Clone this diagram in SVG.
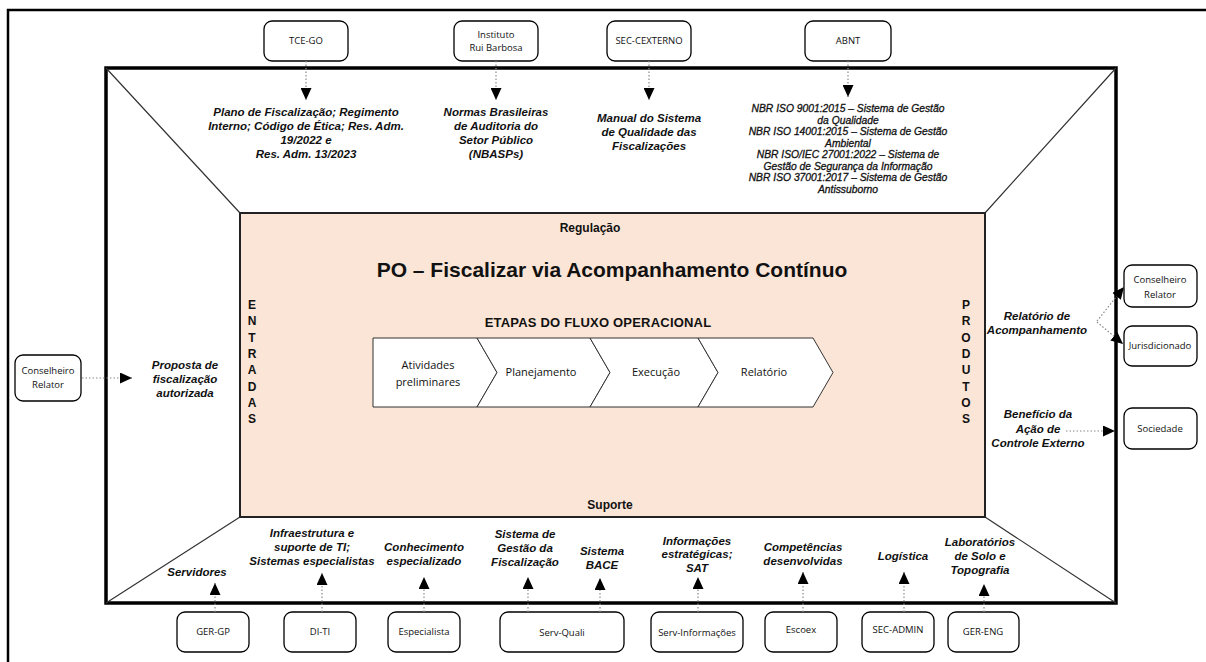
<svg xmlns="http://www.w3.org/2000/svg" width="1206" height="662" viewBox="0 0 1206 662">
<defs>
<marker id="ah" markerUnits="userSpaceOnUse" markerWidth="12" markerHeight="11" refX="12" refY="5.5" orient="auto">
<path d="M0,0 L12,5.5 L0,11 Z" fill="#000"/>
</marker>
<style>
.frame{fill:none;stroke:#000;stroke-width:3.5}
.outer{fill:none;stroke:#000;stroke-width:2.5}
.diag{fill:none;stroke:#333;stroke-width:1.2}
.box{fill:#fff;stroke:#000;stroke-width:1.3}
.chev{fill:#fff;stroke:#333;stroke-width:1}
.conn{fill:none;stroke:#8a8a8a;stroke-width:1.2;stroke-dasharray:1.5 2;marker-end:url(#ah)}
.lbl{font-family:"Liberation Sans",Arial,sans-serif;font-weight:bold;font-style:italic;font-size:11.5px;text-anchor:middle;fill:#111}
.norm{font-family:"Liberation Sans",Arial,sans-serif;font-style:italic;font-size:10.3px;text-anchor:middle;fill:#111;stroke:#111;stroke-width:0.3}
.bx{font-family:"Open Sans","Noto Sans",sans-serif;font-size:9.5px;text-anchor:middle;fill:#111}
.ch{font-family:"Open Sans","Noto Sans",sans-serif;font-size:11px;text-anchor:middle;fill:#111}
.hd{font-family:"Liberation Sans",Arial,sans-serif;font-weight:bold;text-anchor:middle;fill:#111}
</style>
</defs>
<rect width="1206" height="662" fill="#fff"/>
<path class="outer" d="M8,662 L8,10 L1206,10"/>
<g id="frame">
<rect class="frame" x="106" y="68" width="1010" height="535" fill="#fff"/>
<path class="diag" d="M106,68 L240,213 M1116,68 L985,213 M106,603 L240,517 M1116,603 L985,517"/>
</g>
<g id="process">
<rect x="240" y="213" width="745" height="304" fill="#fbe5d6" stroke="#222" stroke-width="2"/>
<text class="hd" x="590" y="232" font-size="12px">Regulação</text>
<text class="hd" x="612" y="277" font-size="21px">PO – Fiscalizar via Acompanhamento Contínuo</text>
<text class="hd" x="598" y="327" font-size="13px" letter-spacing="0.2">ETAPAS DO FLUXO OPERACIONAL</text>
<text class="hd" x="610" y="509" font-size="12px">Suporte</text>
<text class="hd" font-size="12px"><tspan x="252" y="309">E</tspan><tspan x="252" y="325">N</tspan><tspan x="252" y="342">T</tspan><tspan x="252" y="358">R</tspan><tspan x="252" y="374">A</tspan><tspan x="252" y="391">D</tspan><tspan x="252" y="407">A</tspan><tspan x="252" y="423">S</tspan></text>
<text class="hd" font-size="12px"><tspan x="966" y="309">P</tspan><tspan x="966" y="325">R</tspan><tspan x="966" y="342">O</tspan><tspan x="966" y="358">D</tspan><tspan x="966" y="374">U</tspan><tspan x="966" y="391">T</tspan><tspan x="966" y="407">O</tspan><tspan x="966" y="423">S</tspan></text>
</g>
<g id="stage1"><path class="chev" d="M373,338 L477,338 L497,372.5 L477,407 L373,407 Z"/><text class="ch" x="428" y="369">Atividades</text><text class="ch" x="428" y="386">preliminares</text></g>
<g id="stage2"><path class="chev" d="M477,338 L590,338 L610,372.5 L590,407 L477,407 L497,372.5 Z"/><text class="ch" x="541" y="376">Planejamento</text></g>
<g id="stage3"><path class="chev" d="M590,338 L698,338 L718,372.5 L698,407 L590,407 L610,372.5 Z"/><text class="ch" x="656" y="376">Execução</text></g>
<g id="stage4"><path class="chev" d="M698,338 L813,338 L833,372.5 L813,407 L698,407 L718,372.5 Z"/><text class="ch" x="764" y="376">Relatório</text></g>

<g id="tce-go"><rect class="box" x="264" y="21" width="84" height="40" rx="8"/><text class="bx" x="306" y="44">TCE-GO</text></g>
<g id="irb"><rect class="box" x="454" y="21" width="84" height="40" rx="8"/><text class="bx" x="496" y="38">Instituto</text><text class="bx" x="496" y="51">Rui Barbosa</text></g>
<g id="sec-cexterno"><rect class="box" x="607" y="21" width="84" height="40" rx="8"/><text class="bx" x="649" y="44">SEC-CEXTERNO</text></g>
<g id="abnt"><rect class="box" x="805" y="21" width="86" height="40" rx="8"/><text class="bx" x="848" y="44">ABNT</text></g>

<g id="lbl-tce"><text class="lbl" x="306" y="116">Plano de Fiscalização; Regimento</text><text class="lbl" x="306" y="130">Interno; Código de Ética; Res. Adm.</text><text class="lbl" x="306" y="144">19/2022 e</text><text class="lbl" x="306" y="158">Res. Adm. 13/2023</text></g>
<g id="lbl-irb"><text class="lbl" x="496" y="116">Normas Brasileiras</text><text class="lbl" x="496" y="130">de Auditoria do</text><text class="lbl" x="496" y="144">Setor Público</text><text class="lbl" x="496" y="158">(NBASPs)</text></g>
<g id="lbl-sec"><text class="lbl" x="649" y="122">Manual do Sistema</text><text class="lbl" x="649" y="136">de Qualidade das</text><text class="lbl" x="649" y="150">Fiscalizações</text></g>
<g id="lbl-abnt"><text class="norm" x="848" y="112">NBR ISO 9001:2015 – Sistema de Gestão</text><text class="norm" x="848" y="123.5">da Qualidade</text><text class="norm" x="848" y="135">NBR ISO 14001:2015 – Sistema de Gestão</text><text class="norm" x="848" y="146.5">Ambiental</text><text class="norm" x="848" y="158">NBR ISO/IEC 27001:2022 – Sistema de</text><text class="norm" x="848" y="169.5">Gestão de Segurança da Informação</text><text class="norm" x="848" y="181">NBR ISO 37001:2017 – Sistema de Gestão</text><text class="norm" x="848" y="192.5">Antissuborno</text></g>

<g id="relator-in"><rect class="box" x="15" y="355" width="66" height="46" rx="8"/><text class="bx" x="48" y="374">Conselheiro</text><text class="bx" x="48" y="388">Relator</text></g>
<g id="lbl-in"><text class="lbl" x="185" y="369">Proposta de</text><text class="lbl" x="185" y="383">fiscalização</text><text class="lbl" x="185" y="397">autorizada</text></g>

<g id="relator-out"><rect class="box" x="1124" y="265" width="73" height="42" rx="8"/><text class="bx" x="1160" y="283">Conselheiro</text><text class="bx" x="1160" y="298">Relator</text></g>
<g id="jurisdicionado"><rect class="box" x="1124" y="326" width="73" height="40" rx="8"/><text class="bx" x="1160" y="349">Jurisdicionado</text></g>
<g id="sociedade"><rect class="box" x="1124" y="408" width="73" height="41" rx="8"/><text class="bx" x="1160" y="432">Sociedade</text></g>
<g id="lbl-out"><text class="lbl" x="1037" y="320">Relatório de</text><text class="lbl" x="1037" y="334">Acompanhamento</text><text class="lbl" x="1038" y="418">Benefício da</text><text class="lbl" x="1038" y="433">Ação de</text><text class="lbl" x="1038" y="447">Controle Externo</text></g>

<g id="ger-gp"><rect class="box" x="177" y="612" width="72" height="40" rx="8"/><text class="bx" x="213" y="635">GER-GP</text></g>
<g id="di-ti"><rect class="box" x="284" y="612" width="72" height="40" rx="8"/><text class="bx" x="320" y="635">DI-TI</text></g>
<g id="especialista"><rect class="box" x="388" y="612" width="72" height="40" rx="8"/><text class="bx" x="424" y="635">Especialista</text></g>
<g id="serv-quali"><rect class="box" x="500" y="612" width="124" height="40" rx="8"/><text class="bx" x="562" y="636">Serv-Quali</text></g>
<g id="serv-info"><rect class="box" x="651" y="612" width="92" height="40" rx="8"/><text class="bx" x="697" y="636">Serv-Informações</text></g>
<g id="escoex"><rect class="box" x="765" y="612" width="72" height="40" rx="8"/><text class="bx" x="801" y="633">Escoex</text></g>
<g id="sec-admin"><rect class="box" x="862" y="612" width="72" height="40" rx="8"/><text class="bx" x="898" y="633">SEC-ADMIN</text></g>
<g id="ger-eng"><rect class="box" x="948" y="612" width="71" height="40" rx="8"/><text class="bx" x="983" y="635">GER-ENG</text></g>

<g id="lbl-support">
<text class="lbl" x="197" y="576">Servidores</text>
<text class="lbl" x="312" y="537">Infraestrutura e</text><text class="lbl" x="312" y="551">suporte de TI;</text><text class="lbl" x="312" y="565">Sistemas especialistas</text>
<text class="lbl" x="424" y="551">Conhecimento</text><text class="lbl" x="424" y="565">especializado</text>
<text class="lbl" x="525" y="538">Sistema de</text><text class="lbl" x="525" y="552">Gestão da</text><text class="lbl" x="525" y="566">Fiscalização</text>
<text class="lbl" x="602" y="555">Sistema</text><text class="lbl" x="602" y="569">BACE</text>
<text class="lbl" x="697" y="545">Informações</text><text class="lbl" x="697" y="558">estratégicas;</text><text class="lbl" x="697" y="572">SAT</text>
<text class="lbl" x="803" y="551">Competências</text><text class="lbl" x="803" y="565">desenvolvidas</text>
<text class="lbl" x="903" y="560">Logística</text>
<text class="lbl" x="980" y="546">Laboratórios</text><text class="lbl" x="980" y="560">de Solo e</text><text class="lbl" x="980" y="574">Topografia</text>
</g>

<g id="connectors">
<path class="conn" d="M306,61 L306,100"/>
<path class="conn" d="M496,61 L496,100"/>
<path class="conn" d="M649,61 L649,100"/>
<path class="conn" d="M848,61 L848,97"/>
<path class="conn" d="M82,378 L132,378"/>
<path class="conn" d="M1097,321 L1124,287"/>
<path class="conn" d="M1097,322 L1123,344"/>
<path class="conn" d="M1066,431 L1115,431"/>
<path class="conn" d="M215,612 L215,583"/>
<path class="conn" d="M322,612 L322,573"/>
<path class="conn" d="M424,612 L424,577"/>
<path class="conn" d="M528,612 L528,577"/>
<path class="conn" d="M600,612 L600,578"/>
<path class="conn" d="M698,612 L698,577"/>
<path class="conn" d="M803,612 L803,572"/>
<path class="conn" d="M904,612 L904,572"/>
<path class="conn" d="M984,612 L984,584"/>
</g>
</svg>
